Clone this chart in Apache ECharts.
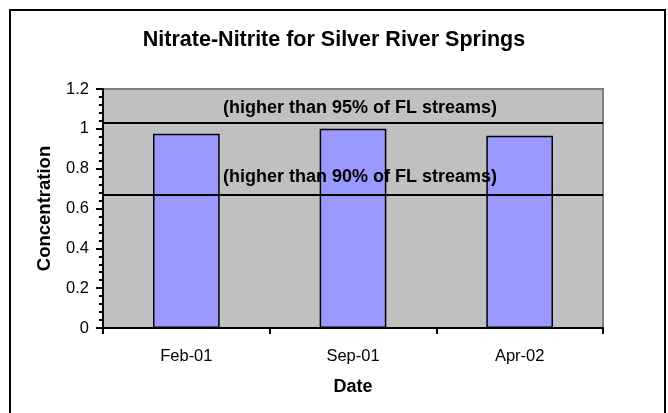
<!DOCTYPE html>
<html>
<head>
<meta charset="utf-8">
<script src="https://cdn.jsdelivr.net/npm/echarts@6/dist/echarts.min.js"></script>
<style>html,body{margin:0;padding:0;background:#fff}#c{width:668px;height:413px}</style>
</head>
<body>
<div id="c"></div>
<script>
var categories = ['Feb-01', 'Sep-01', 'Apr-02'];
var concentration = [0.975, 1.0, 0.965];
var thresholdValues = [1.03, 0.67];
var thresholdLabels = ['(higher than 95% of FL streams)', '(higher than 90% of FL streams)'];
var yTicks = [0, 0.2, 0.4, 0.6, 0.8, 1, 1.2];

var F = '"Liberation Sans", Arial, sans-serif';
var labelDistances = [6, 9];
var chart = echarts.init(document.getElementById('c'), null, {renderer: 'canvas'});
chart.setOption({
  animation: false,
  backgroundColor: '#fff',
  title: {
    text: 'Nitrate-Nitrite for Silver River Springs',
    left: 'center', top: 24,
    textStyle: {fontFamily: F, fontSize: 21.5, fontWeight: 'bold', color: '#000'}
  },
  graphic: [{
    type: 'rect', silent: true, z: 100,
    shape: {x: 10, y: 10, width: 655, height: 420},
    style: {fill: 'none', stroke: '#000', lineWidth: 2}
  }],
  grid: {
    left: 103, right: 65, top: 89, bottom: 85,
    show: true, backgroundColor: '#C0C0C0', borderColor: '#808080', borderWidth: 2
  },
  xAxis: {
    type: 'category', data: categories,
    name: 'Date', nameLocation: 'middle', nameGap: 50,
    nameTextStyle: {fontFamily: F, fontSize: 18, fontWeight: 'bold', color: '#000'},
    axisLine: {lineStyle: {color: '#000', width: 2}},
    axisTick: {show: true, length: 6, lineStyle: {color: '#000', width: 2}},
    axisLabel: {fontFamily: F, fontSize: 16.5, color: '#000', margin: 20},
    splitLine: {show: false}
  },
  yAxis: {
    type: 'value', min: yTicks[0], max: yTicks[yTicks.length - 1], interval: 0.2,
    name: 'Concentration', nameLocation: 'middle', nameGap: 49,
    nameTextStyle: {fontFamily: F, fontSize: 18.5, fontWeight: 'bold', color: '#000'},
    axisLine: {show: true, lineStyle: {color: '#000', width: 2}},
    axisTick: {show: true, length: 7, lineStyle: {color: '#000', width: 2}},
    minorTick: {show: true, splitNumber: 5, length: 4, lineStyle: {color: '#000', width: 2}},
    axisLabel: {fontFamily: F, fontSize: 16.5, color: '#000', margin: 14,
      formatter: function (v) { return String(Math.round(v * 10) / 10); }},
    splitLine: {show: false}
  },
  series: [{
    type: 'bar', data: concentration, barWidth: '40%',
    itemStyle: {color: '#9999FF', borderColor: '#000', borderWidth: 1.5},
    markLine: {
      silent: true, symbol: 'none',
      lineStyle: {color: '#000', width: 2, type: 'solid'},
      label: {
        show: true, position: 'insideMiddleTop',
        fontFamily: F, fontSize: 18, fontWeight: 'bold', color: '#000',
        padding: [0, 0, 0, 14],
        formatter: function (p) { return p.name; }
      },
      data: thresholdValues.map(function (v, i) {
        return {yAxis: v, name: thresholdLabels[i], label: {distance: labelDistances[i]}};
      })
    }
  }]
});
</script>
</body>
</html>
